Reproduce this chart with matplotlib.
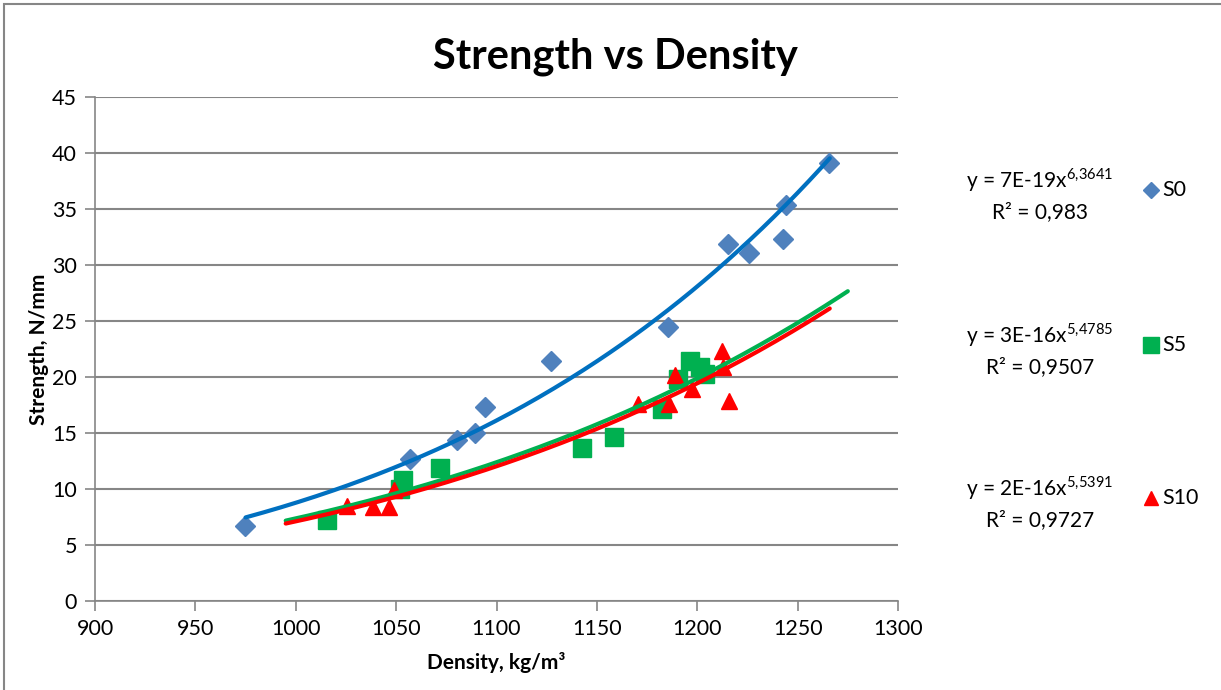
import numpy as np
import matplotlib.pyplot as plt
from matplotlib.lines import Line2D
from matplotlib.patches import Rectangle

# S0 (diamonds)
s0_density = [974.7, 1056.9, 1080.2, 1089.3, 1094.3, 1127.1, 1185.6, 1215.1, 1225.8, 1242.7, 1244.0, 1265.8]
s0_strength = [6.7, 12.7, 14.4, 15.0, 17.3, 21.4, 24.5, 31.9, 31.1, 32.3, 35.4, 39.1]

# S5 (squares)
s5_density = [1015.4, 1051.9, 1053.2, 1071.9, 1142.4, 1158.5, 1182.2, 1190.6, 1196.4, 1201.4, 1203.9]
s5_strength = [7.2, 10.0, 10.8, 11.85, 13.7, 14.6, 17.1, 19.8, 21.4, 20.9, 20.3]

# S10 (triangles)
s10_density = [1025.7, 1038.6, 1046.5, 1048.9, 1170.6, 1186.0, 1188.9, 1197.2, 1212.2, 1212.6, 1215.8]
s10_strength = [8.5, 8.4, 8.4, 9.9, 17.6, 17.6, 20.2, 18.9, 22.35, 20.85, 17.9]

series_names = ['S0', 'S5', 'S10']
equations = [r'y = 7E-19x$^{\mathrm{6{,}3641}}$', r'y = 3E-16x$^{\mathrm{5{,}4785}}$',
             r'y = 2E-16x$^{\mathrm{5{,}5391}}$']
r2_labels = ['R² = 0,983', 'R² = 0,9507', 'R² = 0,9727']
trend_ranges = [(975, 1266), (995, 1275), (995, 1266)]

plt.rcParams['font.family'] = ['Lato', 'DejaVu Sans']
plt.rcParams['mathtext.fontset'] = 'custom'
plt.rcParams['mathtext.rm'] = 'Lato'

fig = plt.figure(figsize=(12.21, 6.9), dpi=100)
ax = fig.add_axes([95 / 1221, 1 - 601 / 690, (898 - 95) / 1221, (601 - 97) / 690])

grid_col = '#868686'
series = [
    (s0_density, s0_strength, 'D', '#4F81BD', '#0070C0', 10),
    (s5_density, s5_strength, 's', '#00B050', '#00B050', 13),
    (s10_density, s10_strength, '^', '#FF0000', '#FF0000', 12),
]

for (x, y, mk, mcol, lcol, ms), rng in zip(series, trend_ranges):
    ax.plot(x, y, linestyle='none', marker=mk, color=mcol, markersize=ms, zorder=3)
    # power trendline, fitted in log space like Excel does
    b, a = np.polyfit(np.log(x), np.log(y), 1)
    xx = np.linspace(rng[0], rng[1], 200)
    ax.plot(xx, np.exp(a) * xx ** b, color=lcol, linewidth=3, solid_capstyle='round', zorder=4)

ax.set_xlim(900, 1300)
ax.set_ylim(0, 45)
ax.set_xticks(np.arange(900, 1301, 50))
ax.set_yticks(np.arange(0, 46, 5))
ax.yaxis.grid(True, color=grid_col, linewidth=1.5)
ax.set_axisbelow(True)
for side in ['top', 'right']:
    ax.spines[side].set_visible(False)
for side in ['left', 'bottom']:
    ax.spines[side].set_color(grid_col)
    ax.spines[side].set_linewidth(1.2)
ax.tick_params(direction='out', length=7, color=grid_col, width=1.2, labelsize=15.5, pad=6)

ax.set_xlabel('Density, kg/m³', fontsize=15, fontweight='bold', labelpad=9)
ax.set_ylabel('Strength, N/mm', fontsize=15, fontweight='bold', labelpad=2)
fig.text(615 / 1221, 1 - 57 / 690, 'Strength vs Density', fontsize=30, fontweight='bold',
         ha='center', va='center')

# legend built by hand
leg_y = [190, 345, 498]
for i, ly in enumerate(leg_y):
    _, _, mk, mcol, _, ms = series[i]
    fig.text(1040 / 1221, 1 - (ly - 10) / 690, equations[i], fontsize=15, ha='center', va='center')
    fig.text(1040 / 1221, 1 - (ly + 22) / 690, r2_labels[i], fontsize=15, ha='center', va='center')
    fig.add_artist(Line2D([1151 / 1221], [1 - ly / 690], marker=mk, color=mcol,
                          markersize=ms * 0.85, linestyle='none'))
    fig.text(1162 / 1221, 1 - ly / 690, series_names[i], fontsize=15.5, ha='left', va='center')

# chart area border (cropped on the right and bottom)
fig.add_artist(Rectangle((4 / 1221, -0.1), 1.2, 1.1 - 4 / 690, transform=fig.transFigure,
                         fill=False, edgecolor=grid_col, linewidth=1.5))

fig.savefig('out.png', dpi=100)
